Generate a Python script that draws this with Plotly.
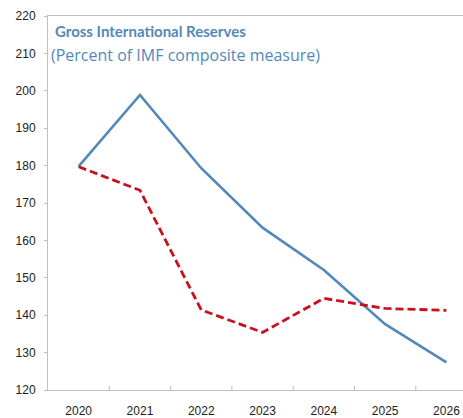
import plotly.graph_objects as go

years = ["2020", "2021", "2022", "2023", "2024", "2025", "2026"]
reserves_current = [179.8, 198.9, 179.3, 163.4, 152.1, 137.6, 127.4]
reserves_previous = [179.7, 173.4, 141.4, 135.4, 144.5, 141.8, 141.3]
y_ticks = [120, 130, 140, 150, 160, 170, 180, 190, 200, 210, 220]

BLUE = "#5389b8"
RED = "#c8101e"
AXIS = "#bfbfbf"

fig = go.Figure()
fig.add_trace(go.Scatter(x=list(range(len(years))), y=reserves_current, mode="lines",
                         line=dict(color=BLUE, width=2.6), showlegend=False))
fig.add_trace(go.Scatter(x=list(range(len(years))), y=reserves_previous, mode="lines",
                         line=dict(color=RED, width=2.8, dash="8px,4px"), showlegend=False))

fig.update_layout(
    width=463, height=418,
    margin=dict(l=48, r=0, t=16, b=25),
    paper_bgcolor="white", plot_bgcolor="white",
    font=dict(family="Liberation Sans, Arial", size=12, color="#222222"),
    xaxis=dict(range=[-0.5, 6.27], tickmode="array",
               tickvals=list(range(len(years))), ticktext=years,
               showgrid=False, zeroline=False, showline=True, linecolor=AXIS,
               linewidth=1, mirror=True, ticks="", ticklabelstandoff=10),
    yaxis=dict(range=[120, 220], tickvals=y_ticks, showgrid=False,
               zeroline=False, showline=True, linecolor=AXIS, linewidth=1,
               ticks="outside", ticklen=3, tickcolor=AXIS, ticklabelstandoff=6),
)

# tick marks between the year categories
for i in range(len(years) - 1):
    fig.add_shape(type="line", xref="x", yref="y", x0=i + 0.5, x1=i + 0.5,
                  y0=120, y1=121.2, line=dict(color=AXIS, width=1))

fig.add_annotation(xref="paper", yref="paper", x=0.013, y=0.961, xanchor="left",
                   yanchor="middle", showarrow=False,
                   text="<b>Gross International Reserves</b>",
                   font=dict(family="Lato, Liberation Sans", size=15, color=BLUE))
fig.add_annotation(xref="paper", yref="paper", x=0.002, y=0.897, xanchor="left",
                   yanchor="middle", showarrow=False,
                   text="(Percent of IMF composite measure)",
                   font=dict(family="Open Sans, Liberation Sans", size=16, color=BLUE))

fig.write_html("out.html")
